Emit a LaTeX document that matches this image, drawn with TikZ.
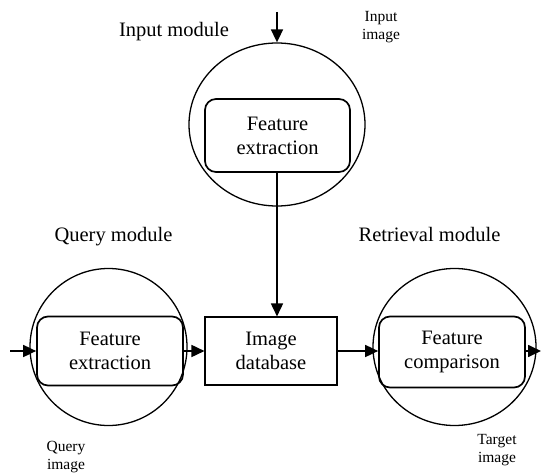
\documentclass[tikz,border=0pt]{standalone}
\usepackage{fontspec}
\setmainfont{Liberation Serif}
\usetikzlibrary{arrows.meta,shapes.geometric}
\tikzset{
  modcircle/.style={draw,ellipse,line width=1.3pt,inner sep=0pt},
  fbox/.style={draw,rounded corners=11pt,line width=1.7pt,align=center,inner sep=0pt,
    font=\fontsize{20.5}{24}\selectfont},
  dbbox/.style={draw,line width=1.1pt,align=center,inner sep=0pt,
    font=\fontsize{20.5}{24}\selectfont},
  conn/.style={line width=1.7pt,-{Triangle[length=13pt,width=12pt]}},
  modlabel/.style={anchor=base,inner sep=0pt,font=\fontsize{20.5}{24}\selectfont},
  imglabel/.style={anchor=north,inner sep=0pt,align=center,font=\fontsize{15.5}{18}\selectfont}
}
\begin{document}
\begin{tikzpicture}[x=1pt,y=-1pt]
\useasboundingbox (0,0) rectangle (541,476);
% circles
\node[modcircle,minimum width=176pt,minimum height=163pt] (c1) at (277,124.5) {};
\node[modcircle,minimum width=157pt,minimum height=157pt] (c2) at (108.5,347) {};
\node[modcircle,minimum width=163pt,minimum height=157pt] (c3) at (454.5,347) {};
% boxes
\node[fbox,minimum width=145pt,minimum height=73pt] (tb) at (277.5,135.5) {Feature\\extraction};
\node[fbox,minimum width=146pt,minimum height=69pt] (lb) at (110,351) {Feature\\extraction};
\node[dbbox,minimum width=132pt,minimum height=68pt] (db) at (271,351) {Image\\database};
\node[fbox,minimum width=146pt,minimum height=71pt] (rb) at (452,352) {Feature\\comparison};
% labels
\node[modlabel] (l1) at (174,37) {Input module};
\node[modlabel] (l2) at (113.5,241) {Query module};
\node[modlabel] (l3) at (429.5,241) {Retrieval module};
\node[imglabel] (i1) at (381,11) {Input\\image};
\node[imglabel] (i2) at (66,441) {Query\\image};
\node[imglabel] (i3) at (497,434) {Target\\image};
% free ends
\coordinate (inTop) at (277,12);
\coordinate (inLeft) at (10,351);
\coordinate (outRight) at (541,351);
% connectors
\draw[conn] (inTop) -- (c1.north);
\draw[conn] (tb.south -| inTop) -- (db.north -| inTop);
\draw[conn] (inLeft) -- (lb.west |- inLeft);
\draw[conn] (lb.east |- inLeft) -- (db.west |- inLeft);
\draw[conn] (db.east |- inLeft) -- (rb.west |- inLeft);
\draw[conn] (rb.east |- inLeft) -- (outRight);
\end{tikzpicture}
\end{document}
